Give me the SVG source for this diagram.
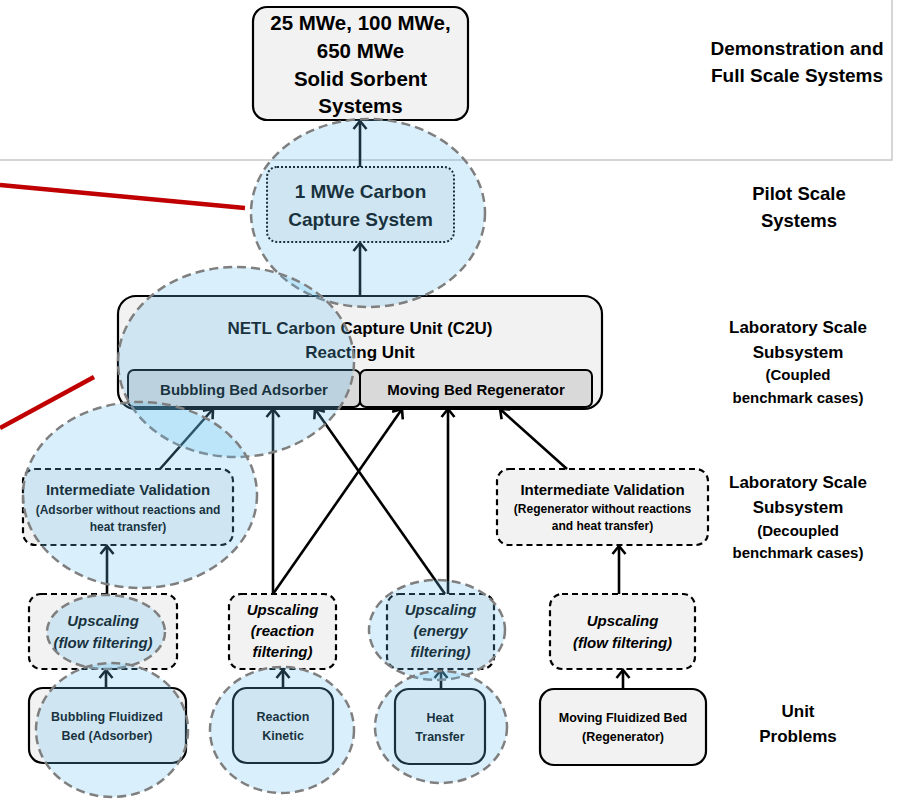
<svg xmlns="http://www.w3.org/2000/svg" width="903" height="801" viewBox="0 0 903 801">
  <style>
    .t { font-family: "Liberation Sans", Arial, sans-serif; font-weight: bold; text-anchor: middle; fill: #000; }
    .it { font-style: italic; }
    .box { fill: #f2f2f2; stroke: #000; stroke-width: 2.2; }
    .inner { fill: #d9d9d9; stroke: #000; stroke-width: 2; }
    .dash { fill: #f2f2f2; stroke: #000; stroke-width: 2.2; stroke-dasharray: 6 4; }
    .dot { fill: #f2f2f2; stroke: #000; stroke-width: 2; stroke-dasharray: 2 2; }
    .conn { stroke: #000; stroke-width: 2.6; fill: none; marker-end: url(#arr); }
    .hl { fill: rgb(103,195,243); fill-opacity: 0.25; stroke: #7f7f7f; stroke-width: 2.5; stroke-dasharray: 9 5; }
    .red { stroke: #c00000; stroke-width: 4.5; }
    .frame { stroke: #c8c8c8; stroke-width: 1.5; fill: none; }
  </style>
  <defs>
    <marker id="arr" markerUnits="userSpaceOnUse" markerWidth="16" markerHeight="16" refX="11" refY="8" orient="auto">
      <path d="M3,1.5 L11,8 L3,14.5" fill="none" stroke="#000" stroke-width="2.6"/>
    </marker>
  </defs>

  <g id="frame">
    <path class="frame" d="M0,160 H892 V0"/>
  </g>

  <g id="red-lines">
    <line class="red" x1="0" y1="185" x2="245" y2="208"/>
    <line class="red" x1="0" y1="428" x2="94" y2="377"/>
  </g>

  <g id="labels">
    <text class="t" font-size="19"><tspan x="797" y="55">Demonstration and</tspan><tspan x="797" y="82">Full Scale Systems</tspan></text>
    <text class="t" font-size="18.5"><tspan x="799" y="200">Pilot Scale</tspan><tspan x="799" y="227">Systems</tspan></text>
    <text class="t" font-size="17"><tspan x="798" y="333">Laboratory Scale</tspan><tspan x="798" y="358">Subsystem</tspan></text>
    <text class="t" font-size="15"><tspan x="798" y="380">(Coupled</tspan><tspan x="798" y="403">benchmark cases)</tspan></text>
    <text class="t" font-size="17"><tspan x="798" y="488">Laboratory Scale</tspan><tspan x="798" y="513">Subsystem</tspan></text>
    <text class="t" font-size="15"><tspan x="798" y="536">(Decoupled</tspan><tspan x="798" y="558">benchmark cases)</tspan></text>
    <text class="t" font-size="17"><tspan x="798" y="717">Unit</tspan><tspan x="798" y="742">Problems</tspan></text>
  </g>

  <g id="node-full-scale">
    <rect class="box" x="253" y="7" width="215" height="113" rx="14"/>
    <text class="t" font-size="20.5"><tspan x="360.5" y="30">25 MWe, 100 MWe,</tspan><tspan x="360.5" y="58">650 MWe</tspan><tspan x="360.5" y="86">Solid Sorbent</tspan><tspan x="360.5" y="113">Systems</tspan></text>
  </g>

  <g id="node-pilot">
    <rect class="dot" x="267" y="167" width="187" height="75" rx="10"/>
    <text class="t" font-size="19"><tspan x="360.5" y="198">1 MWe Carbon</tspan><tspan x="360.5" y="226">Capture System</tspan></text>
  </g>

  <g id="node-c2u">
    <rect class="box" x="118" y="296" width="484" height="113" rx="18"/>
    <text class="t" font-size="17"><tspan x="360" y="334">NETL Carbon Capture Unit (C2U)</tspan><tspan x="360" y="358">Reacting Unit</tspan></text>
  </g>
  <g id="node-adsorber">
    <rect class="inner" x="128" y="370" width="232" height="37" rx="6"/>
    <text class="t" font-size="15" x="244" y="395">Bubbling Bed Adsorber</text>
  </g>
  <g id="node-regenerator">
    <rect class="inner" x="360" y="370" width="232" height="37" rx="6"/>
    <text class="t" font-size="15" x="476" y="395">Moving Bed Regenerator</text>
  </g>

  <g id="node-iv-adsorber">
    <rect class="dash" x="23" y="469" width="210" height="76" rx="12"/>
    <text class="t" font-size="15" x="128" y="495">Intermediate Validation</text>
    <text class="t" font-size="12"><tspan x="128" y="514">(Adsorber without reactions and</tspan><tspan x="128" y="531">heat transfer)</tspan></text>
  </g>
  <g id="node-iv-regenerator">
    <rect class="dash" x="497" y="469" width="211" height="76" rx="12"/>
    <text class="t" font-size="15" x="602.5" y="495">Intermediate Validation</text>
    <text class="t" font-size="12"><tspan x="602.5" y="513">(Regenerator without reactions</tspan><tspan x="602.5" y="530">and heat transfer)</tspan></text>
  </g>

  <g id="node-up-flow-1">
    <rect class="dash" x="29" y="594" width="148" height="75" rx="12"/>
    <text class="t it" font-size="15"><tspan x="103" y="626">Upscaling</tspan><tspan x="103" y="648">(flow filtering)</tspan></text>
  </g>
  <g id="node-up-reaction">
    <rect class="dash" x="229" y="594" width="107" height="75" rx="12"/>
    <text class="t it" font-size="15"><tspan x="282.5" y="615">Upscaling</tspan><tspan x="282.5" y="636">(reaction</tspan><tspan x="282.5" y="657">filtering)</tspan></text>
  </g>
  <g id="node-up-energy">
    <rect class="dash" x="387" y="594" width="107" height="75" rx="12"/>
    <text class="t it" font-size="15"><tspan x="440.5" y="615">Upscaling</tspan><tspan x="440.5" y="636">(energy</tspan><tspan x="440.5" y="657">filtering)</tspan></text>
  </g>
  <g id="node-up-flow-2">
    <rect class="dash" x="550" y="594" width="145" height="75" rx="12"/>
    <text class="t it" font-size="15"><tspan x="622.5" y="626">Upscaling</tspan><tspan x="622.5" y="648">(flow filtering)</tspan></text>
  </g>

  <g id="node-unit-bfb">
    <rect class="box" x="29" y="688" width="157" height="75" rx="14"/>
    <text class="t" font-size="12.5"><tspan x="107" y="721">Bubbling  Fluidized</tspan><tspan x="107" y="740">Bed (Adsorber)</tspan></text>
  </g>
  <g id="node-unit-reaction">
    <rect class="box" x="233" y="688" width="100" height="75" rx="14"/>
    <text class="t" font-size="12.5"><tspan x="283" y="721">Reaction</tspan><tspan x="283" y="740">Kinetic</tspan></text>
  </g>
  <g id="node-unit-heat">
    <rect class="box" x="395" y="689" width="90" height="75" rx="14"/>
    <text class="t" font-size="12.5"><tspan x="440" y="722">Heat</tspan><tspan x="440" y="741">Transfer</tspan></text>
  </g>
  <g id="node-unit-mfb">
    <rect class="box" x="540" y="689" width="166" height="76" rx="14"/>
    <text class="t" font-size="12.5"><tspan x="623" y="722">Moving Fluidized Bed</tspan><tspan x="623" y="741">(Regenerator)</tspan></text>
  </g>

  <g id="connectors">
    <line class="conn" x1="106" y1="688" x2="106" y2="670"/>
    <line class="conn" x1="107" y1="594" x2="107" y2="546"/>
    <line class="conn" x1="160" y1="469" x2="213" y2="409"/>
    <line class="conn" x1="273" y1="594" x2="273" y2="409"/>
    <line class="conn" x1="273" y1="594" x2="402" y2="409"/>
    <line class="conn" x1="445" y1="594" x2="315" y2="409"/>
    <line class="conn" x1="448" y1="594" x2="448" y2="409"/>
    <line class="conn" x1="567" y1="469" x2="500" y2="409"/>
    <line class="conn" x1="619" y1="594" x2="619" y2="546"/>
    <line class="conn" x1="623" y1="689" x2="623" y2="670"/>
    <line class="conn" x1="283" y1="688" x2="283" y2="670"/>
    <line class="conn" x1="441" y1="689" x2="441" y2="670"/>
    <line class="conn" x1="360" y1="296" x2="360" y2="243"/>
    <line class="conn" x1="360" y1="167" x2="360" y2="121"/>
  </g>

  <g id="highlights">
    <ellipse class="hl" cx="368" cy="213" rx="117" ry="94"/>
    <ellipse class="hl" cx="236" cy="362" rx="118" ry="95"/>
    <ellipse class="hl" cx="140" cy="495" rx="117" ry="93"/>
    <ellipse class="hl" cx="106" cy="632" rx="59" ry="37"/>
    <ellipse class="hl" cx="112" cy="730" rx="76" ry="67"/>
    <ellipse class="hl" cx="282" cy="730" rx="72" ry="63"/>
    <ellipse class="hl" cx="437" cy="630" rx="68" ry="50"/>
    <ellipse class="hl" cx="441" cy="727" rx="66" ry="56"/>
  </g>
</svg>
